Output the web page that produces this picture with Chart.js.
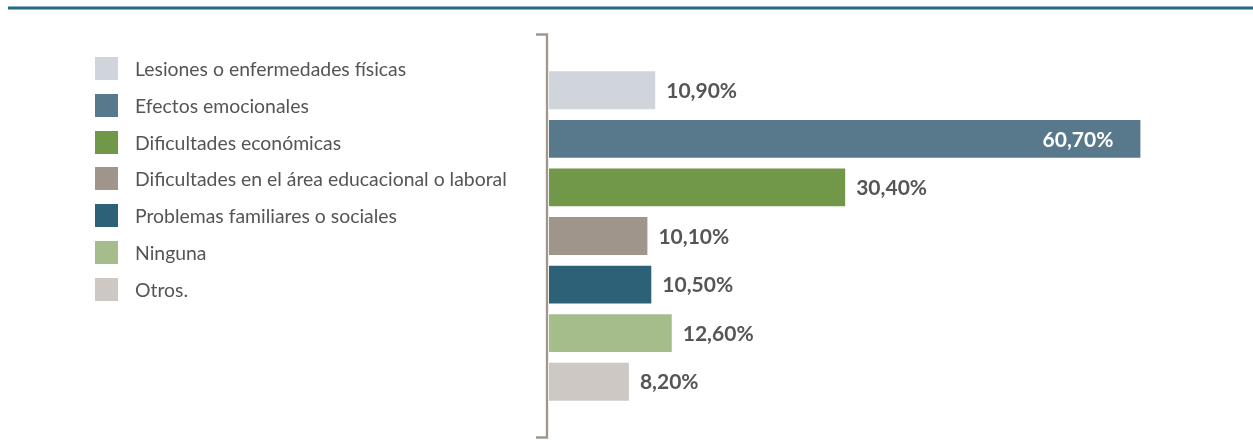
<!DOCTYPE html>
<html>
<head>
<meta charset="utf-8">
<script src="https://cdn.jsdelivr.net/npm/chart.js@4.4.1/dist/chart.umd.min.js"></script>
<style>
  html, body { margin: 0; padding: 0; background: #fff; }
  #wrap { position: relative; width: 1253px; height: 440px; }
  #chart { position: absolute; left: 0; top: 0; }
  #legend { position: absolute; left: 95px; top: 57px; font-family: Lato, sans-serif; font-size: 19.4px; color: #555; }
  .item { height: 23px; margin-bottom: 13.8px; display: flex; align-items: center; }
  .box { width: 23px; height: 23px; margin-right: 17px; flex: none; }
</style>
</head>
<body>
<div id="wrap">
  <canvas id="chart" width="1253" height="440"></canvas>
  <div id="legend"></div>
</div>
<script>
// Дані графіка
const categories = [
  'Lesiones o enfermedades físicas',
  'Efectos emocionales',
  'Dificultades económicas',
  'Dificultades en el área educacional o laboral',
  'Problemas familiares o sociales',
  'Ninguna',
  'Otros.'
];
const values = [10.9, 60.7, 30.4, 10.1, 10.5, 12.6, 8.2];
const valueLabels = ['10,90%', '60,70%', '30,40%', '10,10%', '10,50%', '12,60%', '8,20%'];
const colors = ['#cfd5da', '#58788c', '#719748', '#9f958a', '#2c6178', '#a5bd8a', '#cdc8c4'];

// Легенда (HTML)
document.getElementById('legend').innerHTML = categories.map((c, i) =>
  `<div class="item"><span class="box" style="background:${colors[i]}"></span>${c}</div>`
).join('');

// Рамка, верхня лінія і підписи значень
const decorPlugin = {
  id: 'decor',
  afterDatasetsDraw(chart) {
    const ctx = chart.ctx;
    ctx.save();
    // верхня лінія
    ctx.fillStyle = '#8fb3c2';
    ctx.fillRect(8, 6, 1245, 4);
    ctx.fillStyle = '#236b85';
    ctx.fillRect(8, 7, 1245, 2);

    // дужка осі
    ctx.strokeStyle = '#a0968c';
    ctx.lineWidth = 2.3;
    ctx.beginPath();
    ctx.moveTo(536, 34.5);
    ctx.lineTo(547, 34.5);
    ctx.lineTo(547, 437.5);
    ctx.lineTo(536, 437.5);
    ctx.stroke();

    // підписи
    const meta = chart.getDatasetMeta(0);
    ctx.font = 'bold 21px Lato, sans-serif';
    ctx.textBaseline = 'middle';
    meta.data.forEach((bar, i) => {
      if (values[i] > 50) {
        ctx.fillStyle = '#ffffff';
        ctx.textAlign = 'right';
        ctx.fillText(valueLabels[i], bar.x - 27, bar.y + 1);
      } else {
        ctx.fillStyle = '#555555';
        ctx.textAlign = 'left';
        ctx.fillText(valueLabels[i], bar.x + 11, bar.y + 1);
      }
    });
    ctx.restore();
  }
};

new Chart(document.getElementById('chart'), {
  type: 'bar',
  data: {
    labels: categories,
    datasets: [{ data: values, backgroundColor: colors, borderWidth: 0,
      categoryPercentage: 1, barPercentage: 0.78 }]
  },
  options: {
    indexAxis: 'y',
    responsive: false,
    animation: false,
    layout: { padding: { left: 549, top: 66, bottom: 34, right: 22 } },
    scales: {
      x: { display: false, min: 0, max: 70 },
      y: { display: false }
    },
    plugins: { legend: { display: false }, tooltip: { enabled: false } }
  },
  plugins: [decorPlugin]
});
</script>
</body>
</html>
